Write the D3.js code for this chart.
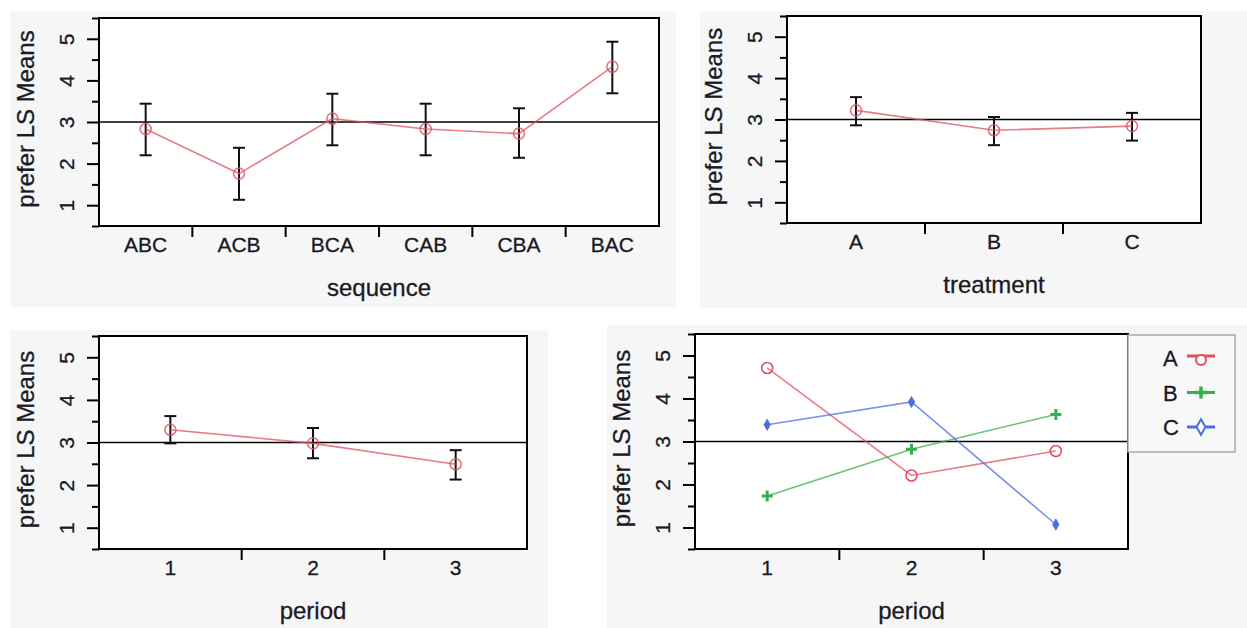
<!DOCTYPE html>
<html>
<head>
<meta charset="utf-8">
<script src="https://cdn.jsdelivr.net/npm/d3@7"></script>
<style>
  html, body { margin: 0; padding: 0; background: #fff; }
  svg { display: block; }
  text { font-family: "Liberation Sans", Arial, sans-serif; fill: #1a1a24; stroke: #1a1a24; stroke-width: 0.3px; }
</style>
</head>
<body>
<div id="chart"></div>
<script>
// ===== Data =====
const yTickValues = [1, 2, 3, 4, 5];
const yMinorValues = [0.5, 1.5, 2.5, 3.5, 4.5, 5.5];
const refValue = 3;
const yTitle = "prefer LS Means";

// sequence panel
const seqCats  = ["ABC", "ACB", "BCA", "CAB", "CBA", "BAC"];
const seqMeans = [2.83, 1.76, 3.08, 2.83, 2.72, 4.33];
const seqLower = [2.20, 1.13, 2.44, 2.20, 2.14, 3.69];
const seqUpper = [3.44, 2.38, 3.68, 3.44, 3.33, 4.93];

// treatment panel
const treatCats  = ["A", "B", "C"];
const treatMeans = [3.22, 2.74, 2.84];
const treatLower = [2.86, 2.38, 2.49];
const treatUpper = [3.54, 3.06, 3.16];

// period panel
const periodCats  = ["1", "2", "3"];
const periodMeans = [3.30, 2.98, 2.49];
const periodLower = [2.98, 2.63, 2.13];
const periodUpper = [3.62, 3.34, 2.82];

// treatment x period interaction
const seriesNames = ["A", "B", "C"];
const seriesA = [4.71, 2.21, 2.78];
const seriesB = [1.73, 2.82, 3.63];
const seriesC = [3.39, 3.92, 1.07];

const red   = "#e0505f";
const green = "#36b04a";
const blue  = "#4a70e0";

// ===== SVG =====
const W = 1247, H = 628;
const svg = d3.select("#chart").append("svg")
  .attr("width", W)
  .attr("height", H);

// Generic panel: grey background, framed plot, axes, ref line
function drawPanel(p) {
  svg.append("rect")
    .attr("x", p.bg[0]).attr("y", p.bg[1])
    .attr("width", p.bg[2]).attr("height", p.bg[3])
    .attr("fill", "#f6f6f6");

  const g = svg.append("g")
    .attr("transform", `translate(${p.left},${p.top})`);

  const w = p.right - p.left,
        h = p.bottom - p.top;

  const x = d3.scaleBand().domain(p.cats).range([0, w]).padding(0);
  const y = d3.scaleLinear().domain([0.5, 5.5]).range([h, 0]);

  g.append("rect")
    .attr("width", w).attr("height", h)
    .attr("fill", "#fff");

  // minor y ticks
  g.append("g")
    .call(d3.axisLeft(y).tickValues(yMinorValues).tickSize(7).tickFormat(""))
    .call(a => a.select(".domain").remove())
    .selectAll("line").attr("stroke", "#000").attr("stroke-width", 2);

  // major y ticks + rotated labels
  const ya = g.append("g")
    .call(d3.axisLeft(y).tickValues(yTickValues).tickSize(12).tickFormat(d3.format("d")));
  ya.select(".domain").remove();
  ya.selectAll("line").attr("stroke", "#000").attr("stroke-width", 2);
  ya.selectAll("text")
    .attr("transform", "rotate(-90)")
    .attr("x", 0).attr("y", -25).attr("dy", 0)
    .attr("text-anchor", "middle")
    .style("font-size", "21px")
    .attr("fill", "#1a1a24");

  // x ticks between categories
  g.selectAll(".xtick")
    .data(p.cats.slice(1))
    .join("line")
    .attr("class", "xtick")
    .attr("x1", d => x(d)).attr("x2", d => x(d))
    .attr("y1", h).attr("y2", h + 11)
    .attr("stroke", "#000").attr("stroke-width", 2);

  // x labels
  g.selectAll(".xlab")
    .data(p.cats)
    .join("text")
    .attr("class", "xlab")
    .attr("x", d => x(d) + x.bandwidth() / 2)
    .attr("y", h + 26)
    .attr("text-anchor", "middle")
    .style("font-size", "21px")
    .text(d => d);

  // axis titles
  g.append("text")
    .attr("x", w / 2).attr("y", h + 70)
    .attr("text-anchor", "middle")
    .style("font-size", "24px")
    .text(p.xTitle);

  g.append("text")
    .attr("transform", `translate(-65,${h / 2 - 3}) rotate(-90)`)
    .attr("text-anchor", "middle")
    .style("font-size", "24px")
    .text(yTitle);

  // reference line
  g.append("line")
    .attr("x1", 0).attr("x2", w)
    .attr("y1", y(refValue)).attr("y2", y(refValue))
    .attr("stroke", "#000").attr("stroke-width", 1.6);

  return { g, x, y, w, h };
}

// Means with error bars
function drawMeans(panel, cats, means, lower, upper) {
  const { g, x, y } = panel;
  const cx = d => x(d) + x.bandwidth() / 2;
  const rows = cats.map((c, i) => ({ c, m: means[i], lo: lower[i], hi: upper[i] }));

  const bars = g.append("g").attr("stroke", "#111").attr("stroke-width", 2);
  bars.selectAll(".ev").data(rows).join("line")
    .attr("x1", d => cx(d.c)).attr("x2", d => cx(d.c))
    .attr("y1", d => y(d.lo)).attr("y2", d => y(d.hi));
  bars.selectAll(".capHi").data(rows).join("line")
    .attr("x1", d => cx(d.c) - 6).attr("x2", d => cx(d.c) + 6)
    .attr("y1", d => y(d.hi)).attr("y2", d => y(d.hi));
  bars.selectAll(".capLo").data(rows).join("line")
    .attr("x1", d => cx(d.c) - 6).attr("x2", d => cx(d.c) + 6)
    .attr("y1", d => y(d.lo)).attr("y2", d => y(d.lo));

  g.append("path")
    .datum(rows)
    .attr("fill", "none")
    .attr("stroke", red).attr("stroke-opacity", 0.75)
    .attr("stroke-width", 1.6)
    .attr("d", d3.line().x(d => cx(d.c)).y(d => y(d.m)));

  g.selectAll(".mk").data(rows).join("circle")
    .attr("cx", d => cx(d.c)).attr("cy", d => y(d.m))
    .attr("r", 5.5)
    .attr("fill", "none")
    .attr("stroke", red).attr("stroke-opacity", 0.8)
    .attr("stroke-width", 1.6);
}

// marker helpers
function plusPath(s) {
  return `M${-s},0H${s}M0,${-s}V${s}`;
}
const diamond = d3.symbol().type(d3.symbolDiamond).size(45);

// ===== Panel 1: sequence =====
const p1 = drawPanel({
  bg: [10, 11, 666, 296],
  left: 99, right: 659, top: 18, bottom: 226,
  cats: seqCats, xTitle: "sequence"
});
drawMeans(p1, seqCats, seqMeans, seqLower, seqUpper);

// ===== Panel 2: treatment =====
const p2 = drawPanel({
  bg: [700, 11, 547, 297],
  left: 787, right: 1201, top: 16, bottom: 223,
  cats: treatCats, xTitle: "treatment"
});
drawMeans(p2, treatCats, treatMeans, treatLower, treatUpper);

// ===== Panel 3: period =====
const p3 = drawPanel({
  bg: [10, 330, 538, 298],
  left: 99, right: 527, top: 336, bottom: 549,
  cats: periodCats, xTitle: "period"
});
drawMeans(p3, periodCats, periodMeans, periodLower, periodUpper);

// ===== Panel 4: interaction =====
const p4 = drawPanel({
  bg: [607, 325, 640, 303],
  left: 695, right: 1128, top: 334, bottom: 549,
  cats: periodCats, xTitle: "period"
});

const series = [
  { name: seriesNames[0], vals: seriesA, color: red,   mark: "circle" },
  { name: seriesNames[1], vals: seriesB, color: green, mark: "plus" },
  { name: seriesNames[2], vals: seriesC, color: blue,  mark: "diamond" }
];

(function () {
  const { g, x, y } = p4;
  const cx = d => x(d) + x.bandwidth() / 2;

  series.forEach(s => {
    const pts = periodCats.map((c, i) => ({ c, v: s.vals[i] }));
    g.append("path")
      .datum(pts)
      .attr("fill", "none")
      .attr("stroke", s.color).attr("stroke-opacity", 0.75)
      .attr("stroke-width", 1.6)
      .attr("d", d3.line().x(d => cx(d.c)).y(d => y(d.v)));

    const mk = g.append("g").selectAll("g").data(pts).join("g")
      .attr("transform", d => `translate(${cx(d.c)},${y(d.v)})`);
    if (s.mark === "circle") {
      mk.append("circle").attr("r", 5.5)
        .attr("fill", "none").attr("stroke", s.color).attr("stroke-width", 1.6);
    } else if (s.mark === "plus") {
      mk.append("path").attr("d", plusPath(5.5))
        .attr("fill", "none").attr("stroke", s.color).attr("stroke-width", 3);
    } else {
      mk.append("path").attr("d", diamond)
        .attr("fill", s.color);
    }
  });

  // legend
  const lg = svg.append("g").attr("transform", "translate(1128,335)");
  lg.append("rect")
    .attr("width", 107).attr("height", 117)
    .attr("fill", "#f8f8f8")
    .attr("stroke", "#a9a9a9").attr("stroke-width", 1.5);

  const rows = lg.selectAll(".lrow").data(series).join("g")
    .attr("class", "lrow")
    .attr("transform", (d, i) => `translate(0,${23 + i * 34.5})`);

  rows.append("text")
    .attr("x", 35).attr("y", 8)
    .style("font-size", "22px")
    .text(d => d.name);

  rows.append("line")
    .attr("x1", 59).attr("x2", 87)
    .attr("y1", d => d.mark === "circle" ? -2 : 0)
    .attr("y2", d => d.mark === "circle" ? -2 : 0)
    .attr("stroke", d => d.color).attr("stroke-width", 3);

  rows.each(function (d) {
    const r = d3.select(this).append("g").attr("transform", "translate(73,0)");
    if (d.mark === "circle") {
      r.append("circle").attr("cy", 2).attr("r", 5)
        .attr("fill", "#f8f8f8").attr("stroke", d.color).attr("stroke-width", 2);
    } else if (d.mark === "plus") {
      r.append("path").attr("d", plusPath(6))
        .attr("stroke", d.color).attr("stroke-width", 3.5);
    } else {
      r.append("path").attr("d", d3.symbol().type(d3.symbolDiamond).size(70))
        .attr("fill", "#f8f8f8").attr("stroke", d.color).attr("stroke-width", 2);
    }
  });
})();

// outer frames last so they sit on top
[p1, p2, p3, p4].forEach(p => {
  p.g.append("rect")
    .attr("width", p.w).attr("height", p.h)
    .attr("fill", "none")
    .attr("stroke", "#000").attr("stroke-width", 2);
});
</script>
</body>
</html>
